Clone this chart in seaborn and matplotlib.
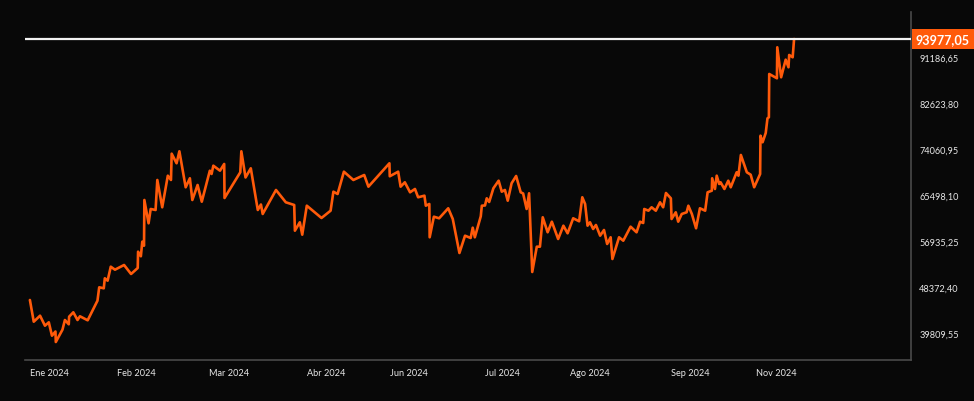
import matplotlib
matplotlib.use("Agg")
import matplotlib.pyplot as plt
import matplotlib.transforms as mtransforms
import pandas as pd
import seaborn as sns

# Serie (posición de sesión en el eje, valor de cierre)
sesion = [
    0, 1.1, 2.9, 4.3, 5.4, 6.3, 7.3, 7.4, 9.3, 10.0, 11.1, 11.2, 12.4, 13.6, 14.3, 16.5,
    19.3, 19.8, 21.1, 21.4, 22.2, 23.1, 24.3, 26.9, 28.9, 30.8, 30.9, 31.7, 32.1, 32.6,
    32.7, 33.9, 34.5, 35.9, 36.4, 37.8, 39.4, 40.3, 40.5, 41.9, 42.7, 44.5, 45.7, 46.4,
    47.9, 49.1, 51.4, 51.9, 52.4, 54.3, 55.5, 55.6, 60.1, 60.4, 61.6, 63.1, 65.1, 66.0,
    66.5, 70.3, 73.1, 75.5, 75.7, 77.1, 77.8, 79.1, 83.3, 85.9, 86.7, 87.9, 89.7, 92.4,
    95.5, 96.7, 102.7, 102.8, 105.2, 105.9, 107.1, 108.6, 110.0, 110.9, 112.7, 113.1,
    114.1, 114.2, 115.4, 116.9, 119.5, 120.8, 122.7, 124.3, 125.9, 126.5, 127.1, 128.8,
    129.1, 130.0, 130.5, 131.2, 132.4, 133.9, 134.8, 135.7, 136.5, 137.6, 138.9, 140.2,
    140.9, 141.9, 142.6, 143.5, 144.8, 145.7, 146.5, 147.9, 149.1, 150.9, 152.4, 153.6,
    155.2, 156.9, 157.8, 158.6, 159.3, 160.0, 160.9, 161.7, 162.9, 164.0, 164.9, 165.9,
    166.4, 168.3, 169.5, 171.6, 173.3, 174.3, 175.2, 175.5, 176.7, 177.6, 178.8, 180.0,
    180.9, 181.7, 183.1, 183.3, 184.5, 185.2, 186.2, 187.6, 188.1, 189.1, 190.3, 191.4,
    192.9, 193.6, 194.8, 194.9, 195.7, 196.2, 196.9, 197.3, 198.4, 199.5, 200.2, 201.9,
    202.4, 203.1, 204.8, 205.9, 206.9, 208.6, 208.7, 209.3, 210.2, 210.7, 211.1, 211.2,
    213.4, 213.5, 214.6, 215.9, 216.7, 216.9, 217.9, 218.3,
]
valor = [
    45394, 41355, 42471, 40610, 41243, 38748, 39530, 37576, 39865, 41671, 40871, 42285,
    43104, 41671, 42360, 41615, 45264, 47758, 47572, 49433, 48987, 51593, 51034, 51909,
    50234, 51351, 54385, 53529, 56246, 55502, 64009, 59672, 62334, 62148, 67732, 62650,
    68533, 67732, 72628, 70841, 73075, 66373, 68049, 64009, 66801, 63692, 69463, 68849,
    70394, 69463, 70710, 64381, 69166, 73075, 68197, 69910, 62148, 63171, 61403, 65871,
    63581, 63078, 58294, 59858, 57550, 62948, 60658, 62017, 65555, 65126, 69277, 67732,
    68663, 66485, 70841, 68421, 69277, 66485, 67304, 65443, 66057, 64512, 64810, 62948,
    63265, 57066, 60901, 60603, 62464, 60472, 54143, 57364, 56935, 58853, 57066, 60975,
    62948, 62985, 64325, 63637, 66187, 67602, 65555, 65871, 63879, 67117, 68477, 65443,
    65219, 62334, 65256, 50606, 55316, 55316, 60789, 57996, 59970, 56749, 59225, 57810,
    60603, 60044, 64512, 63265, 59225, 59858, 58611, 59355, 57364, 58425, 55819, 57066,
    53026, 57066, 56433, 59039, 57996, 59970, 59728, 62334, 62017, 62650, 62017, 63581,
    62650, 65312, 64325, 60472, 61719, 59970, 61403, 61719, 62948, 61403, 58741, 62464,
    62017, 65443, 65740, 68049, 66057, 68533, 66987, 67304, 66057, 67602, 66373, 69166,
    68533, 72386, 69166, 68719, 66373, 68849, 75979, 74750, 76481, 79218, 79404, 87463,
    86663, 92434, 86850, 90126, 88712, 91001, 90572, 93977.05,
]
assert len(sesion) == len(valor), (len(sesion), len(valor))

# Etiquetas del eje x
meses = ["Ene 2024", "Feb 2024", "Mar 2024", "Abr 2024", "Jun 2024",
         "Jul 2024", "Ago 2024", "Sep 2024", "Nov 2024"]
pos_meses = [5.6, 30.4, 57.0, 84.6, 108.4, 135.1, 159.9, 188.7, 213.3]

# Marcas del eje y
ticks_y = [39809.55, 48372.40, 56935.25, 65498.10, 74060.95, 82623.80, 91186.65]
ultimo = valor[-1]

fondo = "#080808"
naranja = "#ff5a0a"
gris = "#4a4a4a"
texto = "#e8e8e8"

sns.set_style("dark", {"axes.facecolor": fondo, "figure.facecolor": fondo})
plt.rcParams["font.family"] = ["Lato", "DejaVu Sans"]

df = pd.DataFrame({"sesion": sesion, "valor": valor})

fig = plt.figure(figsize=(9.74, 4.02), dpi=100)
ax = fig.add_axes([25 / 974, 41 / 402, 886 / 974, 348 / 402])

sns.lineplot(data=df, x="sesion", y="valor", ax=ax, color=naranja, linewidth=1.9)
ax.axhline(ultimo, color="#f2f2f2", linewidth=1.6, zorder=3)

ax.set_xlim(-1.4, 251.7)
ax.set_ylim(34225, 99000)
ax.set_xlabel("")
ax.set_ylabel("")
ax.grid(False)

for side in ["left", "top"]:
    ax.spines[side].set_visible(False)
for side in ["bottom", "right"]:
    ax.spines[side].set_visible(True)
    ax.spines[side].set_color(gris)
    ax.spines[side].set_linewidth(1.2)

ax.set_xticks(pos_meses, labels=meses)
ax.yaxis.tick_right()
ax.set_yticks(ticks_y, labels=[f"{t:.2f}".replace(".", ",") for t in ticks_y])
ax.tick_params(axis="x", length=0, pad=6, labelsize=6.6, labelcolor=texto)
ax.tick_params(axis="y", length=0, pad=6, labelsize=6.6, labelcolor=texto)

# las etiquetas de y quedan un poco por debajo de su marca
shift = mtransforms.ScaledTranslation(0, -3 / 100, fig.dpi_scale_trans)
for lab in ax.get_yticklabels():
    lab.set_transform(lab.get_transform() + shift)

# etiqueta del último valor
ax.annotate(
    f"{ultimo:.2f}".replace(".", ","),
    xy=(1, ultimo), xycoords=("axes fraction", "data"),
    xytext=(3.5, 0), textcoords="offset points",
    ha="left", va="center", color="white", fontsize=9.1, fontweight="bold",
    bbox=dict(boxstyle="square,pad=0.3", fc=naranja, ec="none"),
    annotation_clip=False,
)

fig.savefig("out.png", dpi=100, facecolor=fondo)
